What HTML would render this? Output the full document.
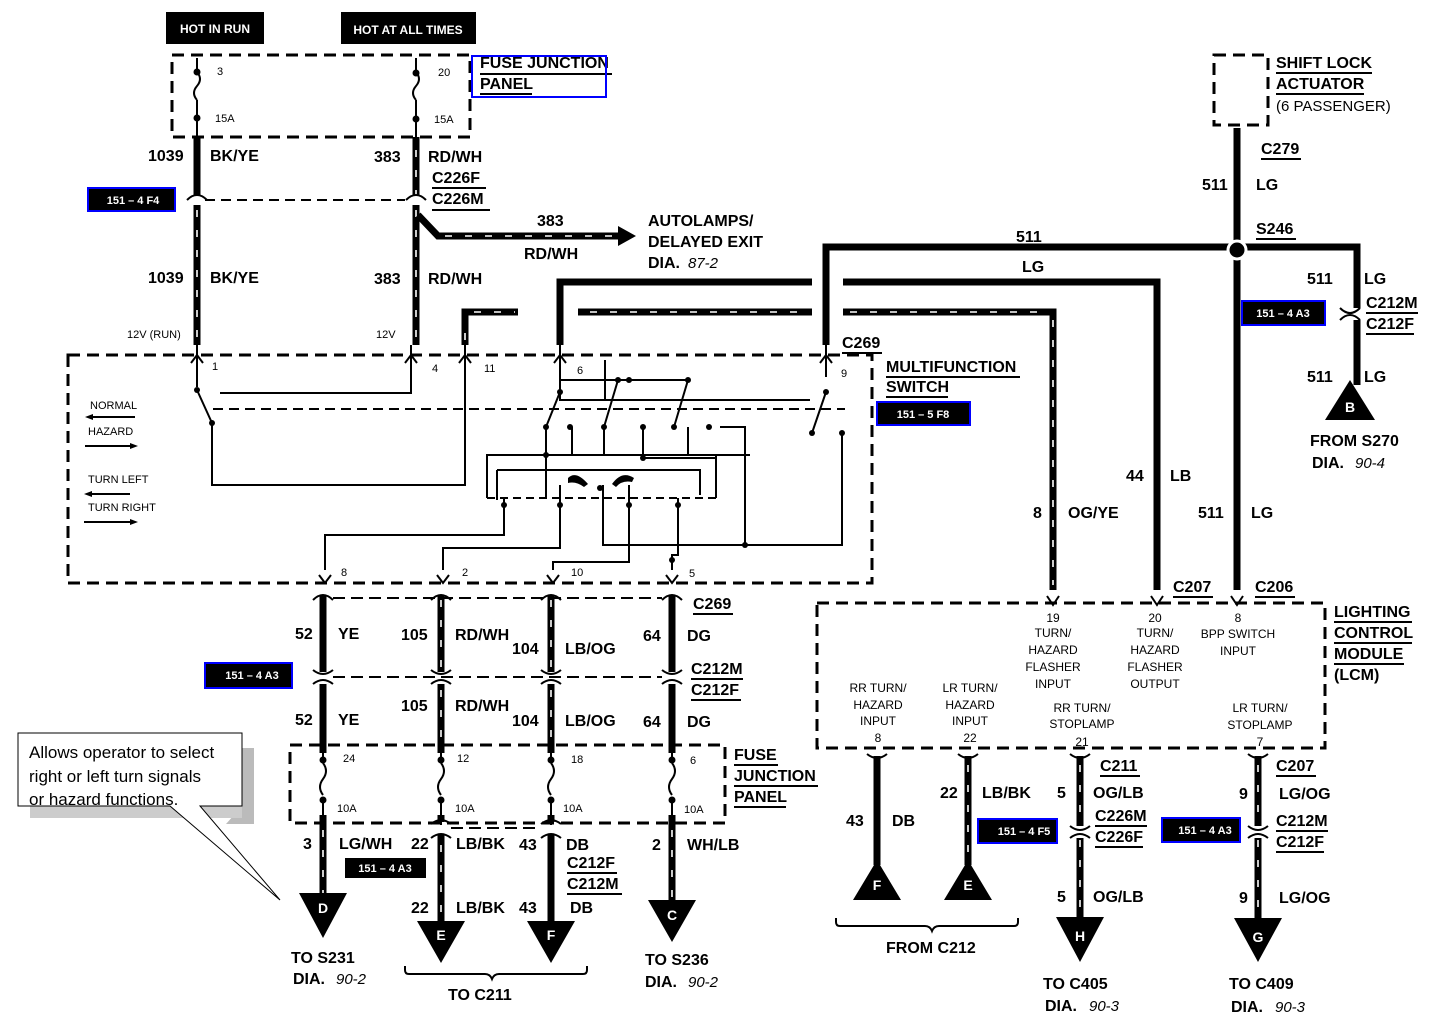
<!DOCTYPE html>
<html><head><meta charset="utf-8"><style>
html,body{margin:0;padding:0;background:#fff;}
svg{display:block;}
text{font-family:"Liberation Sans",sans-serif;fill:#000;}
.b{font-weight:bold;font-size:16px;}
.s{font-size:11px;}
.w{stroke:#000;stroke-width:7;fill:none;}
.st{stroke:#fff;stroke-width:1.6;stroke-dasharray:7 13;fill:none;}
.d{stroke:#000;stroke-width:3;stroke-dasharray:12 7;fill:none;}
.t{stroke:#000;stroke-width:2;fill:none;}
text.tb,.tb text{fill:#fff;font-weight:bold;font-size:11px;}
</style></head><body>
<svg width="1440" height="1024" viewBox="0 0 1440 1024" xmlns="http://www.w3.org/2000/svg">
<rect x="166" y="12" width="98" height="32" fill="#000"/><text x="215" y="33" text-anchor="middle" class="tb" style="font-size:12px">HOT IN RUN</text>
<rect x="341" y="12" width="135" height="32" fill="#000"/><text x="408" y="34" text-anchor="middle" class="tb" style="font-size:12px">HOT AT ALL TIMES</text>
<rect x="172" y="55" width="298" height="82" class="d"/>
<path class="t" d="M197 58 V70 M197 100 V137 M416 58 V70 M416 100 V137"/>
<path class="t" d="M197 72 q6 7 0 14 q-6 7 0 14 M416 72 q6 7 0 14 q-6 7 0 14"/>
<circle cx="197" cy="72" r="3.5"/><circle cx="197" cy="118" r="3.5"/><circle cx="416" cy="73" r="3.5"/><circle cx="416" cy="119" r="3.5"/>
<text x="217" y="75" class="s">3</text><text x="438" y="76" class="s">20</text><text x="215" y="122" class="s">15A</text><text x="434" y="123" class="s">15A</text>
<text x="480" y="68" class="b">FUSE JUNCTION</text><text x="480" y="89" class="b">PANEL</text>
<path class="t" d="M480 74 H612 M480 94 H532" stroke-width="1"/>
<rect x="472" y="56" width="134" height="41" fill="none" stroke="#00f" stroke-width="2"/>
<path class="w" d="M197 137 V195 M197 205 V345 M416 137 V195 M416 205 V345"/>
<path class="st" d="M197 210 V340 M416 150 V195 M416 210 V340"/>
<path class="t" d="M187 200 q10 -10 20 0 M406 200 q10 -10 20 0"/>
<path d="M205 200 H405" class="t" stroke-dasharray="10 6"/>
<rect x="88" y="188" width="87" height="23" fill="#000"/><rect x="88" y="188" width="87" height="23" fill="none" stroke="#00f" stroke-width="2"/>
<text x="133" y="204" text-anchor="middle" class="tb">151 – 4 F4</text>
<text x="148" y="161" class="b">1039</text><text x="210" y="161" class="b">BK/YE</text>
<text x="374" y="162" class="b">383</text><text x="428" y="162" class="b">RD/WH</text>
<text x="432" y="183" class="b">C226F</text><text x="432" y="204" class="b">C226M</text>
<path class="t" d="M432 188 H486 M432 210 H490" stroke-width="1.5"/>
<text x="148" y="283" class="b">1039</text><text x="210" y="283" class="b">BK/YE</text>
<text x="374" y="284" class="b">383</text><text x="428" y="284" class="b">RD/WH</text>
<text x="127" y="338" class="s">12V (RUN)</text><text x="376" y="338" class="s">12V</text>
<path class="w" d="M418 215 L438 236 H620"/><path class="st" d="M445 236 H615"/>
<path d="M618 226 L636 236 L618 246 Z"/>
<text x="537" y="226" class="b">383</text><text x="524" y="259" class="b">RD/WH</text>
<text x="648" y="226" class="b">AUTOLAMPS/</text><text x="648" y="247" class="b">DELAYED EXIT</text>
<text x="648" y="268" class="b">DIA.</text><text x="688" y="268" style="font-size:15px;font-style:italic">87-2</text>
<path class="w" d="M465 345 V312 H518 M560 345 V282 H812 M578 312 H812 M826 345 V247 H1357 V385 M843 282 H1157 V590 M843 312 H1053 V590 M1237 128 V590"/>
<path class="st" d="M465 340 V320 M474 312 H515 M590 312 H810 M850 312 H1050 M1053 320 V585"/>
<rect x="1345" y="308" width="24" height="12" fill="#fff"/>
<circle cx="1237" cy="250" r="9" fill="#000" stroke="#fff" stroke-width="3"/>
<path class="t" d="M1340 308 q10 10 20 0 M1340 320 q10 -10 20 0" stroke-width="2"/>
<path d="M1350 380 L1375 420 H1325 Z"/><text x="1350" y="412" text-anchor="middle" class="tb" style="font-size:14px">B</text>
<text x="1016" y="242" class="b">511</text><text x="1022" y="272" class="b">LG</text>
<text x="1256" y="234" class="b">S246</text><path class="t" d="M1256 239 H1296" stroke-width="1"/>
<text x="1202" y="190" class="b">511</text><text x="1256" y="190" class="b">LG</text>
<text x="1261" y="154" class="b">C279</text><path class="t" d="M1261 159 H1301" stroke-width="1"/>
<rect x="1214" y="55" width="54" height="70" class="d"/>
<text x="1276" y="68" class="b">SHIFT LOCK</text><text x="1276" y="89" class="b">ACTUATOR</text><text x="1276" y="111" style="font-size:15px">(6 PASSENGER)</text>
<path class="t" d="M1276 73 H1372 M1276 94 H1364" stroke-width="1"/>
<text x="1307" y="284" class="b">511</text><text x="1364" y="284" class="b">LG</text>
<text x="1366" y="308" class="b">C212M</text><text x="1366" y="329" class="b">C212F</text><path class="t" d="M1366 313 H1418 M1366 334 H1414" stroke-width="1"/>
<rect x="1242" y="301" width="83" height="24" fill="#000"/><rect x="1242" y="301" width="83" height="24" fill="none" stroke="#00f" stroke-width="2"/>
<text x="1283" y="317" text-anchor="middle" class="tb">151 – 4 A3</text>
<text x="1307" y="382" class="b">511</text><text x="1364" y="382" class="b">LG</text>
<text x="1310" y="446" class="b">FROM S270</text><text x="1312" y="468" class="b">DIA.</text><text x="1355" y="468" style="font-size:15px;font-style:italic">90-4</text>
<text x="1126" y="481" class="b">44</text><text x="1170" y="481" class="b">LB</text>
<text x="1033" y="518" class="b">8</text><text x="1068" y="518" class="b">OG/YE</text>
<text x="1198" y="518" class="b">511</text><text x="1251" y="518" class="b">LG</text>
<text x="1173" y="592" class="b">C207</text><text x="1255" y="592" class="b">C206</text>
<path class="t" d="M1173 597 H1213 M1255 597 H1295" stroke-width="1"/>
<text x="842" y="348" class="b">C269</text><path class="t" d="M842 353 H882" stroke-width="1"/>
<rect x="68" y="355" width="804" height="228" class="d"/>
<text x="886" y="372" class="b">MULTIFUNCTION</text><text x="886" y="392" class="b">SWITCH</text>
<path class="t" d="M886 377 H1020 M886 397 H948" stroke-width="1"/>
<rect x="877" y="402" width="93" height="23" fill="#000"/><rect x="877" y="402" width="93" height="23" fill="none" stroke="#00f" stroke-width="2"/>
<text x="923" y="418" text-anchor="middle" class="tb">151 – 5 F8</text>
<text x="90" y="409" class="s">NORMAL</text><text x="88" y="435" class="s">HAZARD</text>
<text x="88" y="483" class="s">TURN LEFT</text><text x="88" y="511" class="s">TURN RIGHT</text>
<path class="t" d="M92 417 H135 M85 446 H130 M90 494 H130 M84 522 H130"/>
<path d="M85 417 l8 -3 v6z M138 446 l-8 -3 v6z M84 494 l8 -3 v6z M138 522 l-8 -3 v6z"/>
<g class="t" stroke-width="1.5">
<path d="M197 345 V387 M411 345 V393 H220 M465 345 V485 H212 V423 M560 345 V400 H810 M826 345 V377 M605 400 V360"/>
<path d="M197 390 L212 423 M546 427 L560 392 M604 427 L618 380 M674 427 L688 380 M812 433 L826 392 M560 380 H688"/>
<path d="M213 409 H845" stroke-dasharray="10 6"/>
<path d="M546 427 V498 M546 455 H572 V427 M604 427 V455 H750 M643 427 V458 H716 V498 M688 427 V455 M720 427 H745 V545 M487 498 V455 H716 V490"/>
<path d="M497 470 H700 V495 M497 470 V500"/>
<path d="M487 498 H720" stroke-dasharray="8 5"/>
<path d="M325 570 V535 H504 V498 M443 570 V548 H560 V485 M553 570 V562 H629 V485 M603 485 V545 H745 M672 570 V555 H678 V498 M745 545 H842 V433"/>
</g>
<g>
<circle cx="197" cy="390" r="3"/><circle cx="212" cy="423" r="3"/><circle cx="546" cy="427" r="3"/><circle cx="560" cy="392" r="3"/><circle cx="604" cy="427" r="3"/><circle cx="618" cy="380" r="3"/><circle cx="674" cy="427" r="3"/><circle cx="688" cy="380" r="3"/><circle cx="629" cy="380" r="3"/><circle cx="812" cy="433" r="3"/><circle cx="826" cy="392" r="3"/><circle cx="842" cy="433" r="3"/><circle cx="570" cy="427" r="3"/><circle cx="643" cy="427" r="3"/><circle cx="709" cy="427" r="3"/><circle cx="546" cy="455" r="3"/><circle cx="643" cy="458" r="3"/><circle cx="745" cy="545" r="3"/><circle cx="600" cy="488" r="3"/><circle cx="504" cy="505" r="3"/><circle cx="560" cy="505" r="3"/><circle cx="629" cy="505" r="3"/><circle cx="678" cy="505" r="3"/><circle cx="672" cy="560" r="3"/>
<path d="M568 478 q8 -8 20 6 l-4 3 q-8 -6 -16 -4z M612 484 q10 -14 22 -6 l-2 4 q-10 -2 -16 5z"/>
</g>
<path class="t" d="M191 363 L197 355 L203 363 M405 363 L411 355 L417 363 M459 363 L465 355 L471 363 M554 363 L560 355 L566 363 M820 363 L826 355 L832 363" stroke-width="2"/>
<text x="212" y="370" class="s">1</text><text x="432" y="372" class="s">4</text><text x="484" y="372" class="s">11</text><text x="577" y="374" class="s">6</text><text x="841" y="377" class="s">9</text>
<path class="t" d="M319 575 L325 583 L331 575 M437 575 L443 583 L449 575 M547 575 L553 583 L559 575 M666 575 L672 583 L678 575"/>
<text x="341" y="576" class="s">8</text><text x="462" y="576" class="s">2</text><text x="571" y="576" class="s">10</text><text x="689" y="577" class="s">5</text>
<path class="w" d="M323 595 V672 M323 684 V900 M441 595 V672 M441 684 V822 M441 834 V928 M551 595 V672 M551 684 V822 M551 834 V928 M672 595 V672 M672 684 V905"/>
<path class="st" d="M441 600 V670 M441 690 V740 M551 600 V670 M551 690 V740 M323 830 V895 M441 845 V925 M672 830 V900"/>
<path class="t" d="M313 600 q10 -10 20 0 M431 600 q10 -10 20 0 M541 600 q10 -10 20 0 M662 600 q10 -10 20 0"/>
<path class="t" d="M313 670 q10 8 20 0 M313 684 q10 -8 20 0 M431 670 q10 8 20 0 M431 684 q10 -8 20 0 M541 670 q10 8 20 0 M541 684 q10 -8 20 0 M662 670 q10 8 20 0 M662 684 q10 -8 20 0"/>
<path class="t" d="M431 824 q10 -8 20 0 M431 838 q10 -8 20 0 M541 824 q10 -8 20 0 M541 838 q10 -8 20 0"/>
<path class="t" d="M333 598 H662 M333 677 H662 M451 828 H541" stroke-dasharray="12 6"/>
<rect x="290" y="745" width="435" height="78" class="d"/>
<g fill="#fff"><rect x="318" y="753" width="10" height="62"/><rect x="436" y="753" width="10" height="62"/><rect x="546" y="753" width="10" height="62"/><rect x="667" y="753" width="10" height="62"/></g>
<path class="t" d="M323 748 V760 M323 800 V825 M323 763 q6 8 0 16 q-6 8 0 16 M441 748 V760 M441 800 V825 M441 763 q6 8 0 16 q-6 8 0 16 M551 748 V760 M551 800 V825 M551 763 q6 8 0 16 q-6 8 0 16 M672 748 V760 M672 800 V825 M672 763 q6 8 0 16 q-6 8 0 16"/>
<circle cx="323" cy="760" r="3.5"/><circle cx="323" cy="800" r="3.5"/><circle cx="441" cy="760" r="3.5"/><circle cx="441" cy="800" r="3.5"/><circle cx="551" cy="760" r="3.5"/><circle cx="551" cy="800" r="3.5"/><circle cx="672" cy="760" r="3.5"/><circle cx="672" cy="800" r="3.5"/>
<text x="343" y="762" class="s">24</text><text x="457" y="762" class="s">12</text><text x="571" y="763" class="s">18</text><text x="690" y="764" class="s">6</text>
<text x="337" y="812" class="s">10A</text><text x="455" y="812" class="s">10A</text><text x="563" y="812" class="s">10A</text><text x="684" y="813" class="s">10A</text>
<text x="734" y="760" class="b">FUSE</text><text x="734" y="781" class="b">JUNCTION</text><text x="734" y="802" class="b">PANEL</text>
<path class="t" d="M734 765 H778 M734 786 H818 M734 807 H786" stroke-width="1"/>
<text x="295" y="639" class="b">52</text><text x="338" y="639" class="b">YE</text>
<text x="401" y="640" class="b">105</text><text x="455" y="640" class="b">RD/WH</text>
<text x="512" y="654" class="b">104</text><text x="565" y="654" class="b">LB/OG</text>
<text x="643" y="641" class="b">64</text><text x="687" y="641" class="b">DG</text>
<text x="693" y="609" class="b">C269</text><path class="t" d="M693 614 H733" stroke-width="1"/>
<text x="691" y="674" class="b">C212M</text><text x="691" y="695" class="b">C212F</text><path class="t" d="M691 679 H743 M691 700 H741" stroke-width="1"/>
<rect x="205" y="663" width="87" height="25" fill="#000"/><rect x="205" y="663" width="87" height="25" fill="none" stroke="#00f" stroke-width="2"/>
<text x="252" y="679" text-anchor="middle" class="tb">151 – 4 A3</text>
<text x="295" y="725" class="b">52</text><text x="338" y="725" class="b">YE</text>
<text x="401" y="711" class="b">105</text><text x="455" y="711" class="b">RD/WH</text>
<text x="512" y="726" class="b">104</text><text x="565" y="726" class="b">LB/OG</text>
<text x="643" y="727" class="b">64</text><text x="687" y="727" class="b">DG</text>
<text x="303" y="849" class="b">3</text><text x="339" y="849" class="b">LG/WH</text>
<text x="411" y="849" class="b">22</text><text x="456" y="849" class="b">LB/BK</text>
<text x="519" y="850" class="b">43</text><text x="566" y="850" class="b">DB</text>
<text x="652" y="850" class="b">2</text><text x="687" y="850" class="b">WH/LB</text>
<text x="567" y="868" class="b">C212F</text><text x="567" y="889" class="b">C212M</text><path class="t" d="M567 873 H617 M567 894 H622" stroke-width="1"/>
<rect x="345" y="858" width="81" height="20" fill="#000"/><text x="385" y="872" text-anchor="middle" class="tb">151 – 4 A3</text>
<text x="411" y="913" class="b">22</text><text x="456" y="913" class="b">LB/BK</text>
<text x="519" y="913" class="b">43</text><text x="570" y="913" class="b">DB</text>
<path d="M299 893 H347 L323 938 Z M417 921 H465 L441 963 Z M527 921 H575 L551 963 Z M648 900 H696 L672 942 Z"/>
<text x="323" y="913" text-anchor="middle" class="tb" style="font-size:14px">D</text>
<text x="441" y="940" text-anchor="middle" class="tb" style="font-size:14px">E</text>
<text x="551" y="940" text-anchor="middle" class="tb" style="font-size:14px">F</text>
<text x="672" y="920" text-anchor="middle" class="tb" style="font-size:14px">C</text>
<text x="291" y="963" class="b">TO S231</text><text x="293" y="984" class="b">DIA.</text><text x="336" y="984" style="font-size:15px;font-style:italic">90-2</text>
<text x="645" y="965" class="b">TO S236</text><text x="645" y="987" class="b">DIA.</text><text x="688" y="987" style="font-size:15px;font-style:italic">90-2</text>
<path class="t" d="M405 966 v4 q0 4 4 4 H485 q5 0 7 5 q2 -5 7 -5 H583 q4 0 4 -4 v-4" stroke-width="2.5"/>
<text x="448" y="1000" class="b">TO C211</text>
<polygon points="242,748 254,748 254,824 226,824 242,806" fill="#bbb"/>
<polygon points="30,806 242,806 242,818 30,818" fill="#ccc"/>
<polygon points="18,733 242,733 242,806 200,806 280,900 170,806 18,806" fill="#fff" stroke="#000" stroke-width="1"/>
<text x="29" y="758" style="font-size:17px">Allows operator to select</text>
<text x="29" y="782" style="font-size:17px">right or left turn signals</text>
<text x="29" y="805" style="font-size:17px">or hazard functions.</text>
<rect x="817" y="603" width="508" height="145" class="d"/>
<path class="t" d="M1047 596 L1053 605 L1059 596 M1151 596 L1157 605 L1163 596 M1231 596 L1237 605 L1243 596"/>
<g class="s" text-anchor="middle" style="font-size:12px">
<text x="1053" y="622">19</text><text x="1053" y="637">TURN/</text><text x="1053" y="654">HAZARD</text><text x="1053" y="671">FLASHER</text><text x="1053" y="688">INPUT</text>
<text x="1155" y="622">20</text><text x="1155" y="637">TURN/</text><text x="1155" y="654">HAZARD</text><text x="1155" y="671">FLASHER</text><text x="1155" y="688">OUTPUT</text>
<text x="1238" y="622">8</text><text x="1238" y="638">BPP SWITCH</text><text x="1238" y="655">INPUT</text>
<text x="878" y="692">RR TURN/</text><text x="878" y="709">HAZARD</text><text x="878" y="725">INPUT</text><text x="878" y="742">8</text>
<text x="970" y="692">LR TURN/</text><text x="970" y="709">HAZARD</text><text x="970" y="725">INPUT</text><text x="970" y="742">22</text>
<text x="1082" y="712">RR TURN/</text><text x="1082" y="728">STOPLAMP</text><text x="1082" y="746">21</text>
<text x="1260" y="712">LR TURN/</text><text x="1260" y="729">STOPLAMP</text><text x="1260" y="746">7</text>
</g>
<text x="1334" y="617" class="b">LIGHTING</text><text x="1334" y="638" class="b">CONTROL</text><text x="1334" y="659" class="b">MODULE</text><text x="1334" y="680" class="b">(LCM)</text>
<path class="t" d="M1334 622 H1412 M1334 643 H1412 M1334 664 H1404" stroke-width="1"/>
<path class="w" d="M877 756 V865 M968 756 V865 M1080 756 V826 M1080 838 V920 M1258 756 V826 M1258 838 V920"/>
<path class="st" d="M968 765 V860 M1080 765 V825 M1080 840 V915 M1258 765 V825 M1258 840 V915"/>
<path class="t" d="M867 754 q10 8 20 0 M958 754 q10 8 20 0 M1070 754 q10 8 20 0 M1248 754 q10 8 20 0 M1070 826 q10 8 20 0 M1070 838 q10 -8 20 0 M1248 826 q10 8 20 0 M1248 838 q10 -8 20 0"/>
<path d="M877 860 L901 900 H853 Z M968 860 L992 900 H944 Z M1056 917 H1104 L1080 962 Z M1234 918 H1282 L1258 962 Z"/>
<text x="877" y="890" text-anchor="middle" class="tb" style="font-size:14px">F</text>
<text x="968" y="890" text-anchor="middle" class="tb" style="font-size:14px">E</text>
<text x="1080" y="941" text-anchor="middle" class="tb" style="font-size:14px">H</text>
<text x="1258" y="942" text-anchor="middle" class="tb" style="font-size:14px">G</text>
<text x="846" y="826" class="b">43</text><text x="892" y="826" class="b">DB</text>
<text x="940" y="798" class="b">22</text><text x="982" y="798" class="b">LB/BK</text>
<text x="1057" y="798" class="b">5</text><text x="1093" y="798" class="b">OG/LB</text>
<text x="1100" y="771" class="b">C211</text><path class="t" d="M1100 776 H1140" stroke-width="1"/>
<text x="1095" y="821" class="b">C226M</text><text x="1095" y="842" class="b">C226F</text><path class="t" d="M1095 826 H1147 M1095 847 H1143" stroke-width="1"/>
<rect x="978" y="819" width="79" height="24" fill="#000"/><rect x="978" y="819" width="79" height="24" fill="none" stroke="#00f" stroke-width="2"/>
<text x="1024" y="835" text-anchor="middle" class="tb">151 – 4 F5</text>
<rect x="1162" y="818" width="78" height="24" fill="#000"/><rect x="1162" y="818" width="78" height="24" fill="none" stroke="#00f" stroke-width="2"/>
<text x="1205" y="834" text-anchor="middle" class="tb">151 – 4 A3</text>
<text x="1057" y="902" class="b">5</text><text x="1093" y="902" class="b">OG/LB</text>
<text x="1239" y="799" class="b">9</text><text x="1279" y="799" class="b">LG/OG</text>
<text x="1276" y="771" class="b">C207</text><path class="t" d="M1276 776 H1316" stroke-width="1"/>
<text x="1276" y="826" class="b">C212M</text><text x="1276" y="847" class="b">C212F</text><path class="t" d="M1276 831 H1328 M1276 852 H1324" stroke-width="1"/>
<text x="1239" y="903" class="b">9</text><text x="1279" y="903" class="b">LG/OG</text>
<path class="t" d="M836 918 v4 q0 4 4 4 H925 q5 0 7 5 q2 -5 7 -5 H1014 q4 0 4 -4 v-4" stroke-width="2.5"/>
<text x="886" y="953" class="b">FROM C212</text>
<text x="1043" y="989" class="b">TO C405</text><text x="1045" y="1011" class="b">DIA.</text><text x="1089" y="1011" style="font-size:15px;font-style:italic">90-3</text>
<text x="1229" y="989" class="b">TO C409</text><text x="1231" y="1012" class="b">DIA.</text><text x="1275" y="1012" style="font-size:15px;font-style:italic">90-3</text>
</svg>
</body></html>
